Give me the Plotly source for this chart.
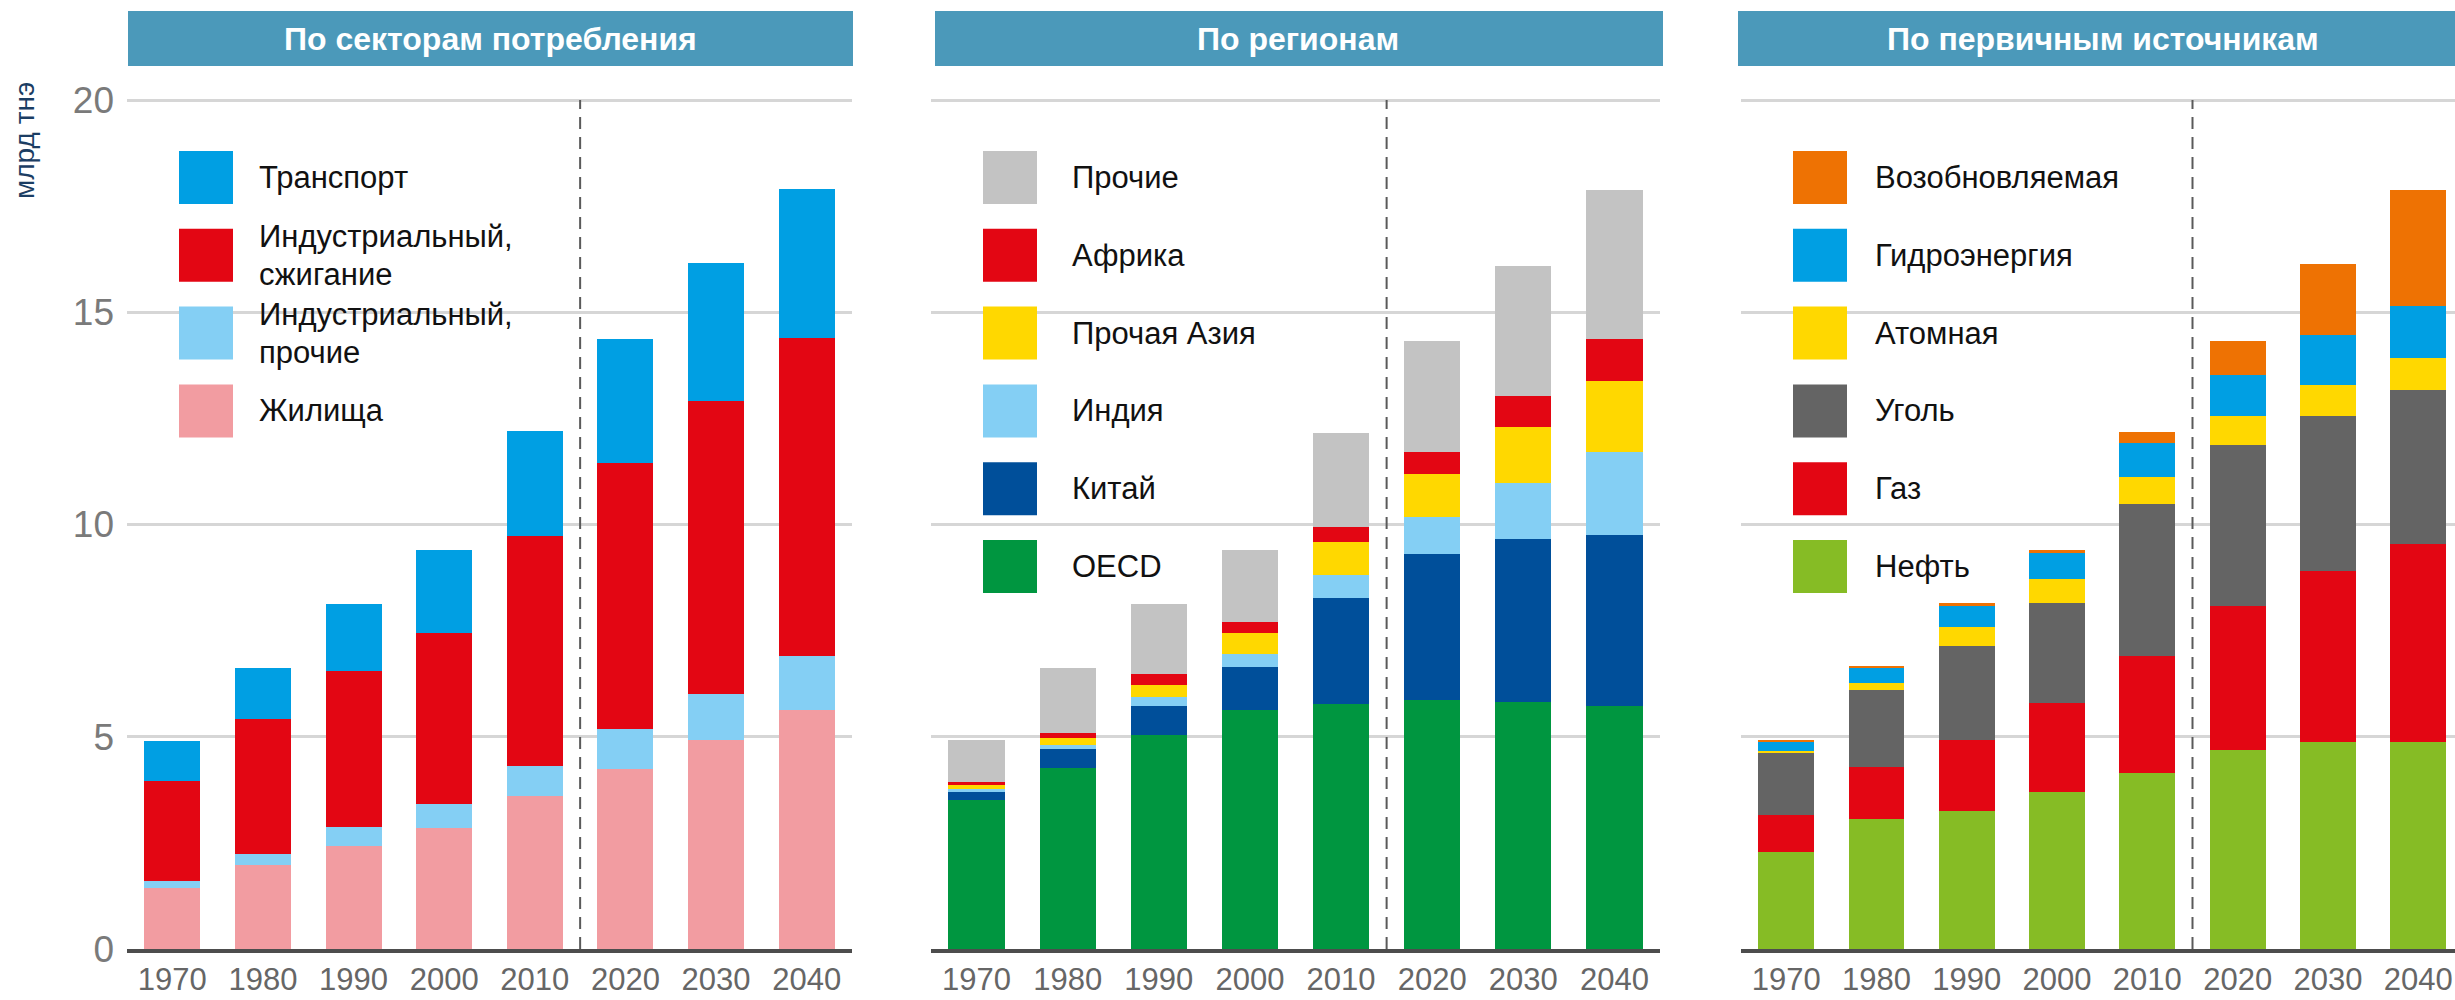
import plotly.graph_objects as go

# ---- data (млрд тнэ) ----
years = ['1970', '1980', '1990', '2000', '2010', '2020', '2030', '2040']

# По секторам потребления (bottom -> top)
housing = [1.44, 1.98, 2.43, 2.84, 3.60, 4.24, 4.92, 5.63]
ind_other = [0.16, 0.26, 0.45, 0.57, 0.72, 0.94, 1.09, 1.27]
ind_combustion = [2.36, 3.17, 3.66, 4.04, 5.40, 6.27, 6.91, 7.50]
transport = [0.94, 1.22, 1.58, 1.94, 2.48, 2.91, 3.23, 3.51]

# По регионам (bottom -> top)
oecd = [3.52, 4.27, 5.05, 5.64, 5.77, 5.86, 5.82, 5.73]
china = [0.19, 0.45, 0.68, 1.01, 2.50, 3.45, 3.85, 4.03]
india = [0.06, 0.08, 0.21, 0.30, 0.54, 0.86, 1.31, 1.94]
other_asia = [0.09, 0.16, 0.29, 0.49, 0.77, 1.03, 1.31, 1.68]
africa = [0.08, 0.14, 0.24, 0.27, 0.36, 0.50, 0.73, 1.00]
other_regions = [0.98, 1.53, 1.65, 1.69, 2.21, 2.62, 3.07, 3.51]

# По первичным источникам (bottom -> top)
oil = [2.29, 3.07, 3.25, 3.70, 4.15, 4.69, 4.87, 4.87]
gas = [0.87, 1.22, 1.68, 2.09, 2.75, 3.40, 4.03, 4.66]
coal = [1.46, 1.82, 2.21, 2.35, 3.58, 3.79, 3.66, 3.63]
nuclear = [0.04, 0.16, 0.44, 0.58, 0.63, 0.68, 0.72, 0.76]
hydro = [0.23, 0.36, 0.51, 0.60, 0.80, 0.96, 1.19, 1.22]
renewables = [0.04, 0.03, 0.06, 0.09, 0.26, 0.80, 1.67, 2.75]

y_ticks = [0, 5, 10, 15, 20]

panels = [
    dict(title='По секторам потребления', x0=127, x1=852, hx=(128, 853), tc=490,
         xr=7.5, tdx=78, box=(167, 564, 130, 465),
         series=[('Жилища', housing, '#f29ca1'),
                 ('Индустриальный,<br>прочие', ind_other, '#84cff4'),
                 ('Индустриальный,<br>сжигание', ind_combustion, '#e30613'),
                 ('Транспорт', transport, '#009fe3')]),
    dict(title='По регионам', x0=931, x1=1660, hx=(935, 1663), tc=1298,
         xr=7.5, tdx=87, box=(973, 1284, 130, 615),
         series=[('OECD', oecd, '#009640'),
                 ('Китай', china, '#004f9a'),
                 ('Индия', india, '#84cff4'),
                 ('Прочая Азия', other_asia, '#ffd800'),
                 ('Африка', africa, '#e30613'),
                 ('Прочие', other_regions, '#c3c3c3')]),
    dict(title='По первичным источникам', x0=1741, x1=2455, hx=(1738, 2455), tc=2103,
         xr=7.407, tdx=80, box=(1781, 2115, 130, 615),
         series=[('Нефть', oil, '#86bc25'),
                 ('Газ', gas, '#e30613'),
                 ('Уголь', coal, '#646464'),
                 ('Атомная', nuclear, '#ffd800'),
                 ('Гидроэнергия', hydro, '#009fe3'),
                 ('Возобновляемая', renewables, '#ee7203')]),
]

W, H = 2455, 1000
Y_BOTTOM = 949
PX_PER_UNIT = 42.45
Y_TOP = 20.4
LINE_PITCH = 38


def fx(px):
    return px / W


def fy(px):
    return 1 - px / H


FONT = 'Liberation Sans, Arial, sans-serif'

fig = go.Figure()
shapes = []
annotations = []
layout = {}

for i, p in enumerate(panels):
    n = '' if i == 0 else str(i + 1)
    xa, ya = 'x' + n, 'y' + n
    for name, vals, color in p['series']:
        fig.add_trace(go.Bar(
            x=years, y=vals, name=name.replace('<br>', ' '),
            marker=dict(color=color, line=dict(width=0)),
            xaxis=xa, yaxis=ya, showlegend=False,
        ))

    layout['xaxis' + n] = dict(
        domain=[fx(p['x0']), fx(p['x1'])], anchor=ya, type='category',
        range=[-0.5, p['xr']], showgrid=False, zeroline=False, automargin=False,
        showline=True, linecolor='#4d4d4d', linewidth=4, ticks='',
        tickfont=dict(family=FONT, size=31, color='#666666'),
        ticklabelstandoff=0, fixedrange=True,
    )
    layout['yaxis' + n] = dict(
        domain=[fy(Y_BOTTOM), fy(Y_BOTTOM - Y_TOP * PX_PER_UNIT)], anchor=xa,
        range=[0, Y_TOP], tickvals=y_ticks, showgrid=True, automargin=False,
        gridcolor='#d6d6d6', gridwidth=2.5, zeroline=False, showline=False,
        showticklabels=(i == 0), ticks='',
        tickfont=dict(family=FONT, size=37, color='#7a7a7a'),
        ticklabelstandoff=12, fixedrange=True,
    )

    # white area behind legend, hiding gridlines
    bx0, bx1, by0, by1 = p['box']
    span = p['x1'] - p['x0']
    shapes.append(dict(
        type='rect', xref=xa + ' domain', yref=ya,
        x0=(bx0 - p['x0']) / span, x1=(bx1 - p['x0']) / span,
        y0=(Y_BOTTOM - by1) / PX_PER_UNIT, y1=(Y_BOTTOM - by0) / PX_PER_UNIT,
        fillcolor='white', line=dict(width=0), layer='below',
    ))

    # forecast divider
    shapes.append(dict(
        type='line', xref=xa, yref=ya, x0=4.5, x1=4.5, y0=0, y1=20,
        line=dict(color='#5a5a5a', width=2, dash='12px,8px'), layer='above',
    ))

    # header band
    hx0, hx1 = p['hx']
    shapes.append(dict(
        type='rect', xref='paper', yref='paper',
        x0=fx(hx0), x1=fx(hx1), y0=fy(66), y1=fy(11),
        fillcolor='#4b99ba', line=dict(width=0), layer='above',
    ))
    annotations.append(dict(
        xref='paper', yref='paper', x=fx(p['tc']), y=fy(39),
        text='<b>' + p['title'] + '</b>', showarrow=False,
        xanchor='center', yanchor='middle',
        font=dict(family=FONT, size=32, color='white'),
    ))

    # legend: top -> bottom
    for k, (name, vals, color) in enumerate(reversed(p['series'])):
        top = 151 + k * 77.8
        sx0 = p['x0'] + 52
        shapes.append(dict(
            type='rect', xref='paper', yref='paper',
            x0=fx(sx0), x1=fx(sx0 + 54), y0=fy(top + 53), y1=fy(top),
            fillcolor=color, line=dict(width=0), layer='above',
        ))
        lines = name.split('<br>')
        for j, line in enumerate(lines):
            yc = top + 26.5 + (j - (len(lines) - 1) / 2) * LINE_PITCH
            annotations.append(dict(
                xref='paper', yref='paper', x=fx(sx0 + p['tdx']), y=fy(yc),
                text=line, showarrow=False, xanchor='left', yanchor='middle',
                align='left', font=dict(family=FONT, size=31, color='#111111'),
            ))

annotations.append(dict(
    xref='paper', yref='paper', x=fx(24), y=fy(141), text='млрд тнэ',
    textangle=-90, showarrow=False, xanchor='center', yanchor='middle',
    font=dict(family=FONT, size=28, color='#1b3d63'),
))

fig.update_layout(
    width=W, height=H, margin=dict(l=0, r=0, t=0, b=0),
    paper_bgcolor='white', plot_bgcolor='white',
    barmode='stack', bargap=0.383,
    shapes=shapes, annotations=annotations,
    **layout,
)

fig.write_html('out.html', config={'displayModeBar': False},
               post_script="document.body.style.margin='0';document.body.style.overflow='hidden';")
